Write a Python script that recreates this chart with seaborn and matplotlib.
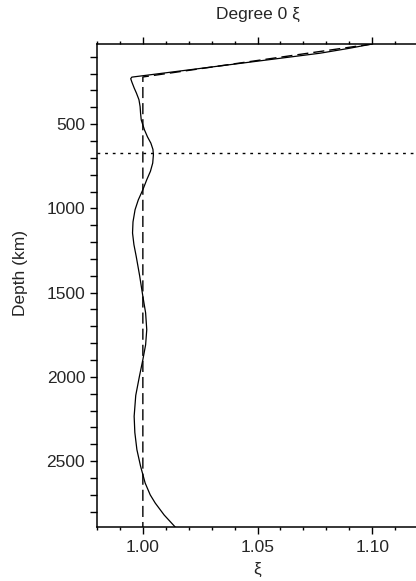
import numpy as np
import pandas as pd
import seaborn as sns
import matplotlib.pyplot as plt
from matplotlib.ticker import MultipleLocator

# Degree 0 radial anisotropy profile
depth_km = [24.4, 50, 79, 115, 150, 185, 221, 230, 250, 285, 316, 355,
            396, 435, 475, 534, 575, 613, 650, 682, 731, 780, 830, 889, 950,
            1008, 1080, 1146, 1215, 1285, 1400, 1522, 1620, 1720, 1810, 1898,
            1997, 2110, 2234, 2330, 2432, 2530, 2630, 2700, 2749, 2820, 2891]
xi_model = [1.1000, 1.0900, 1.0773, 1.0565, 1.0363, 1.0160, 0.9952,
            0.9947, 0.9952, 0.9962, 0.9972, 0.9983, 0.9988, 0.9990, 0.9993,
            1.0007, 1.0020, 1.0035, 1.0044, 1.0046, 1.0043, 1.0033, 1.0017,
            1.0000, 0.9980, 0.9966, 0.9957, 0.9955, 0.9961, 0.9971, 0.9986,
            1.0000, 1.0012, 1.0017, 1.0012, 1.0000, 0.9985, 0.9969, 0.9962,
            0.9965, 0.9974, 0.9990, 1.0010, 1.0032, 1.0054, 1.0093, 1.0141]

# reference model (PREM)
depth_ref = [24.4, 220, 2891]
xi_ref = [1.1000, 1.0, 1.0]

transition_km = 670

model = pd.DataFrame({'xi': xi_model, 'depth': depth_km})
ref = pd.DataFrame({'xi': xi_ref, 'depth': depth_ref})

sns.set_style('ticks')
plt.rcParams['font.family'] = ['Liberation Sans', 'DejaVu Sans']

fs = 12.5
fig = plt.figure(figsize=(4.16, 5.81), dpi=100)
ax = fig.add_axes([97 / 416, 1 - 527 / 581, 321 / 416, (527 - 44) / 581])

sns.lineplot(data=ref, x='xi', y='depth', sort=False, estimator=None,
             color='black', lw=1.0, ax=ax, linestyle=(0, (8, 3.6)))
sns.lineplot(data=model, x='xi', y='depth', sort=False, estimator=None,
             color='black', lw=0.9, ax=ax)
ax.axhline(transition_km, color='black', lw=1.0, linestyle=(0, (2, 3.5)))

ax.set_xlim(0.98, 1.12)
ax.set_ylim(2891, 24.4)

ax.xaxis.set_major_locator(MultipleLocator(0.05))
ax.xaxis.set_minor_locator(MultipleLocator(0.01))
ax.yaxis.set_major_locator(MultipleLocator(500))
ax.yaxis.set_minor_locator(MultipleLocator(100))
ax.xaxis.set_major_formatter(plt.FormatStrFormatter('%.2f'))

ax.tick_params(axis='x', which='both', top=True, bottom=True, direction='out',
               width=1.0, color='black', labelsize=fs, pad=4)
ax.tick_params(axis='x', which='major', length=5)
ax.tick_params(axis='x', which='minor', length=2.4)
ax.tick_params(axis='y', which='both', direction='out', length=5,
               width=1.0, color='black', labelsize=fs, pad=3.5)

for side in ['left', 'top', 'bottom']:
    ax.spines[side].set_linewidth(1.1)
    ax.spines[side].set_color('black')
ax.spines['right'].set_visible(False)

ax.set_xlabel('ξ', fontsize=fs, labelpad=5)
ax.set_ylabel('Depth (km)', fontsize=fs)
ax.yaxis.set_label_coords(-0.215, 0.526)
ax.set_title('Degree 0 ξ', fontsize=fs, pad=18)

fig.savefig('out.png', dpi=100)
